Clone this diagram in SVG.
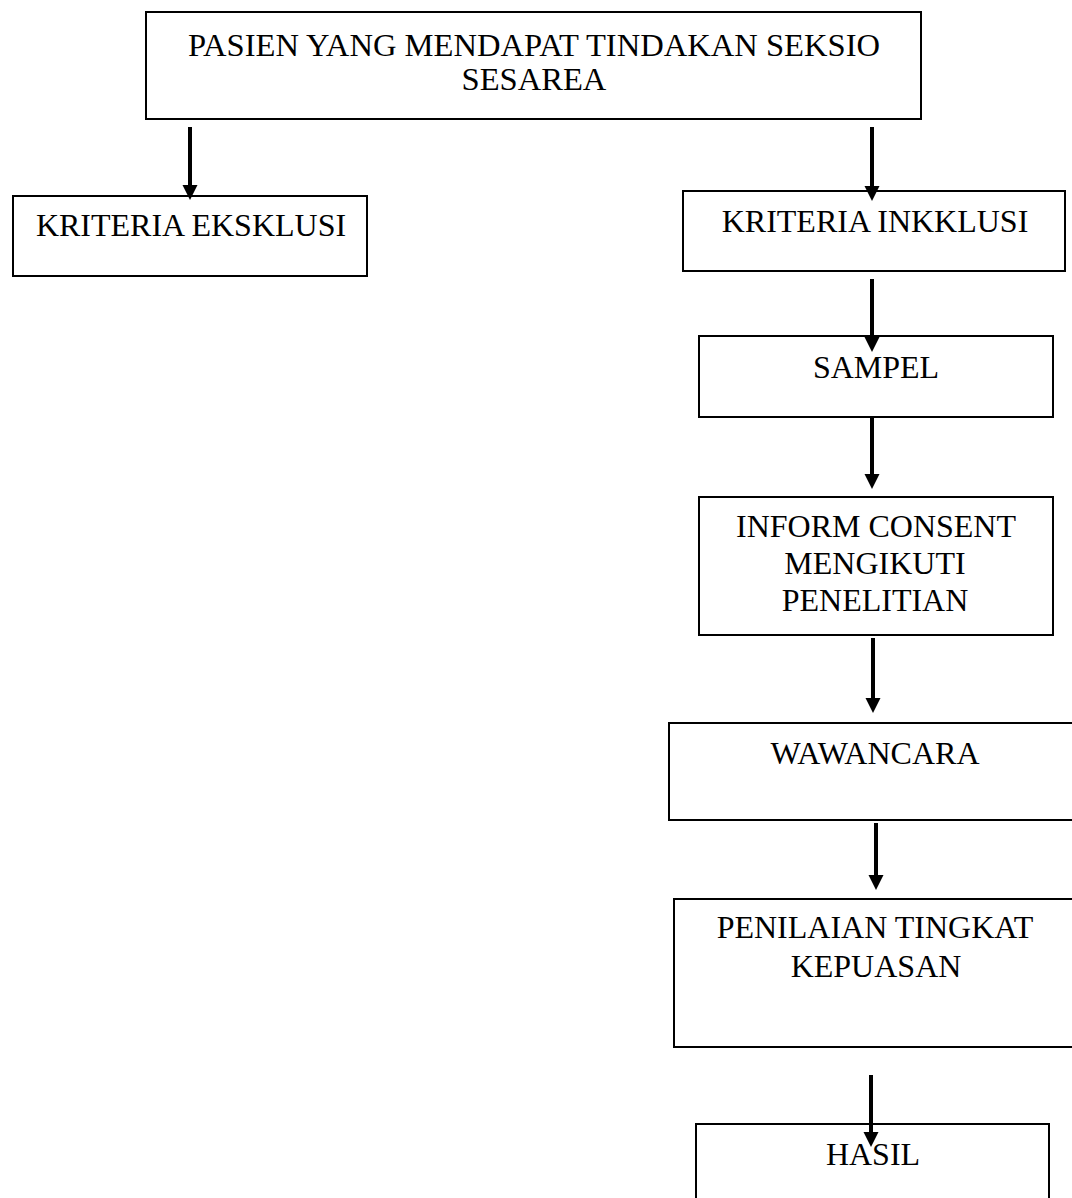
<svg xmlns="http://www.w3.org/2000/svg" width="1072" height="1198" viewBox="0 0 1072 1198">
<defs>
<style>
.box{fill:#fff;stroke:#000;stroke-width:2}
.t{font-family:"Liberation Serif","Times New Roman",serif;font-size:32px;fill:#000;text-anchor:middle}
.big{font-size:32.6px}
.c{stroke:#000;stroke-width:4;fill:none;marker-end:url(#ah)}
</style>
<marker id="ah" markerUnits="userSpaceOnUse" markerWidth="16" markerHeight="16" refX="1" refY="7.5" orient="auto">
<path d="M0,0 L15,7.5 L0,15 z" fill="#000"/>
</marker>
</defs>
<rect width="1072" height="1198" fill="#fff"/>
<g id="n-pasien">
<rect class="box" x="146" y="12" width="775" height="107"/>
<text class="t big" x="534" y="56">PASIEN YANG MENDAPAT TINDAKAN SEKSIO</text>
<text class="t big" x="534" y="90">SESAREA</text>
</g>
<g id="n-eksklusi">
<rect class="box" x="13" y="196" width="354" height="80"/>
<text class="t" x="191" y="236">KRITERIA EKSKLUSI</text>
</g>
<g id="n-inklusi">
<rect class="box" x="683" y="191" width="382" height="80"/>
<text class="t" x="875" y="232">KRITERIA INKKLUSI</text>
</g>
<g id="n-sampel">
<rect class="box" x="699" y="336" width="354" height="81"/>
<text class="t" x="876" y="378">SAMPEL</text>
</g>
<g id="n-inform">
<rect class="box" x="699" y="497" width="354" height="138"/>
<text class="t" x="876" y="537">INFORM CONSENT</text>
<text class="t" x="875" y="574">MENGIKUTI</text>
<text class="t" x="875" y="611">PENELITIAN</text>
</g>
<g id="n-wawancara">
<rect class="box" x="669" y="723" width="420" height="97"/>
<text class="t" x="875" y="764">WAWANCARA</text>
</g>
<g id="n-penilaian">
<rect class="box" x="674" y="899" width="420" height="148"/>
<text class="t" x="875" y="938">PENILAIAN TINGKAT</text>
<text class="t" x="876" y="977">KEPUASAN</text>
</g>
<g id="n-hasil">
<rect class="box" x="696" y="1124" width="353" height="100"/>
<text class="t" x="873" y="1165">HASIL</text>
</g>
<g id="connectors">
<line class="c" x1="190" y1="127" x2="190" y2="186"/>
<line class="c" x1="872" y1="127" x2="872" y2="187"/>
<line class="c" x1="872" y1="279" x2="872" y2="338"/>
<line class="c" x1="872" y1="417" x2="872" y2="475"/>
<line class="c" x1="873" y1="638" x2="873" y2="699"/>
<line class="c" x1="876" y1="823" x2="876" y2="876"/>
<line class="c" x1="871" y1="1075" x2="871" y2="1133"/>
</g>
</svg>
